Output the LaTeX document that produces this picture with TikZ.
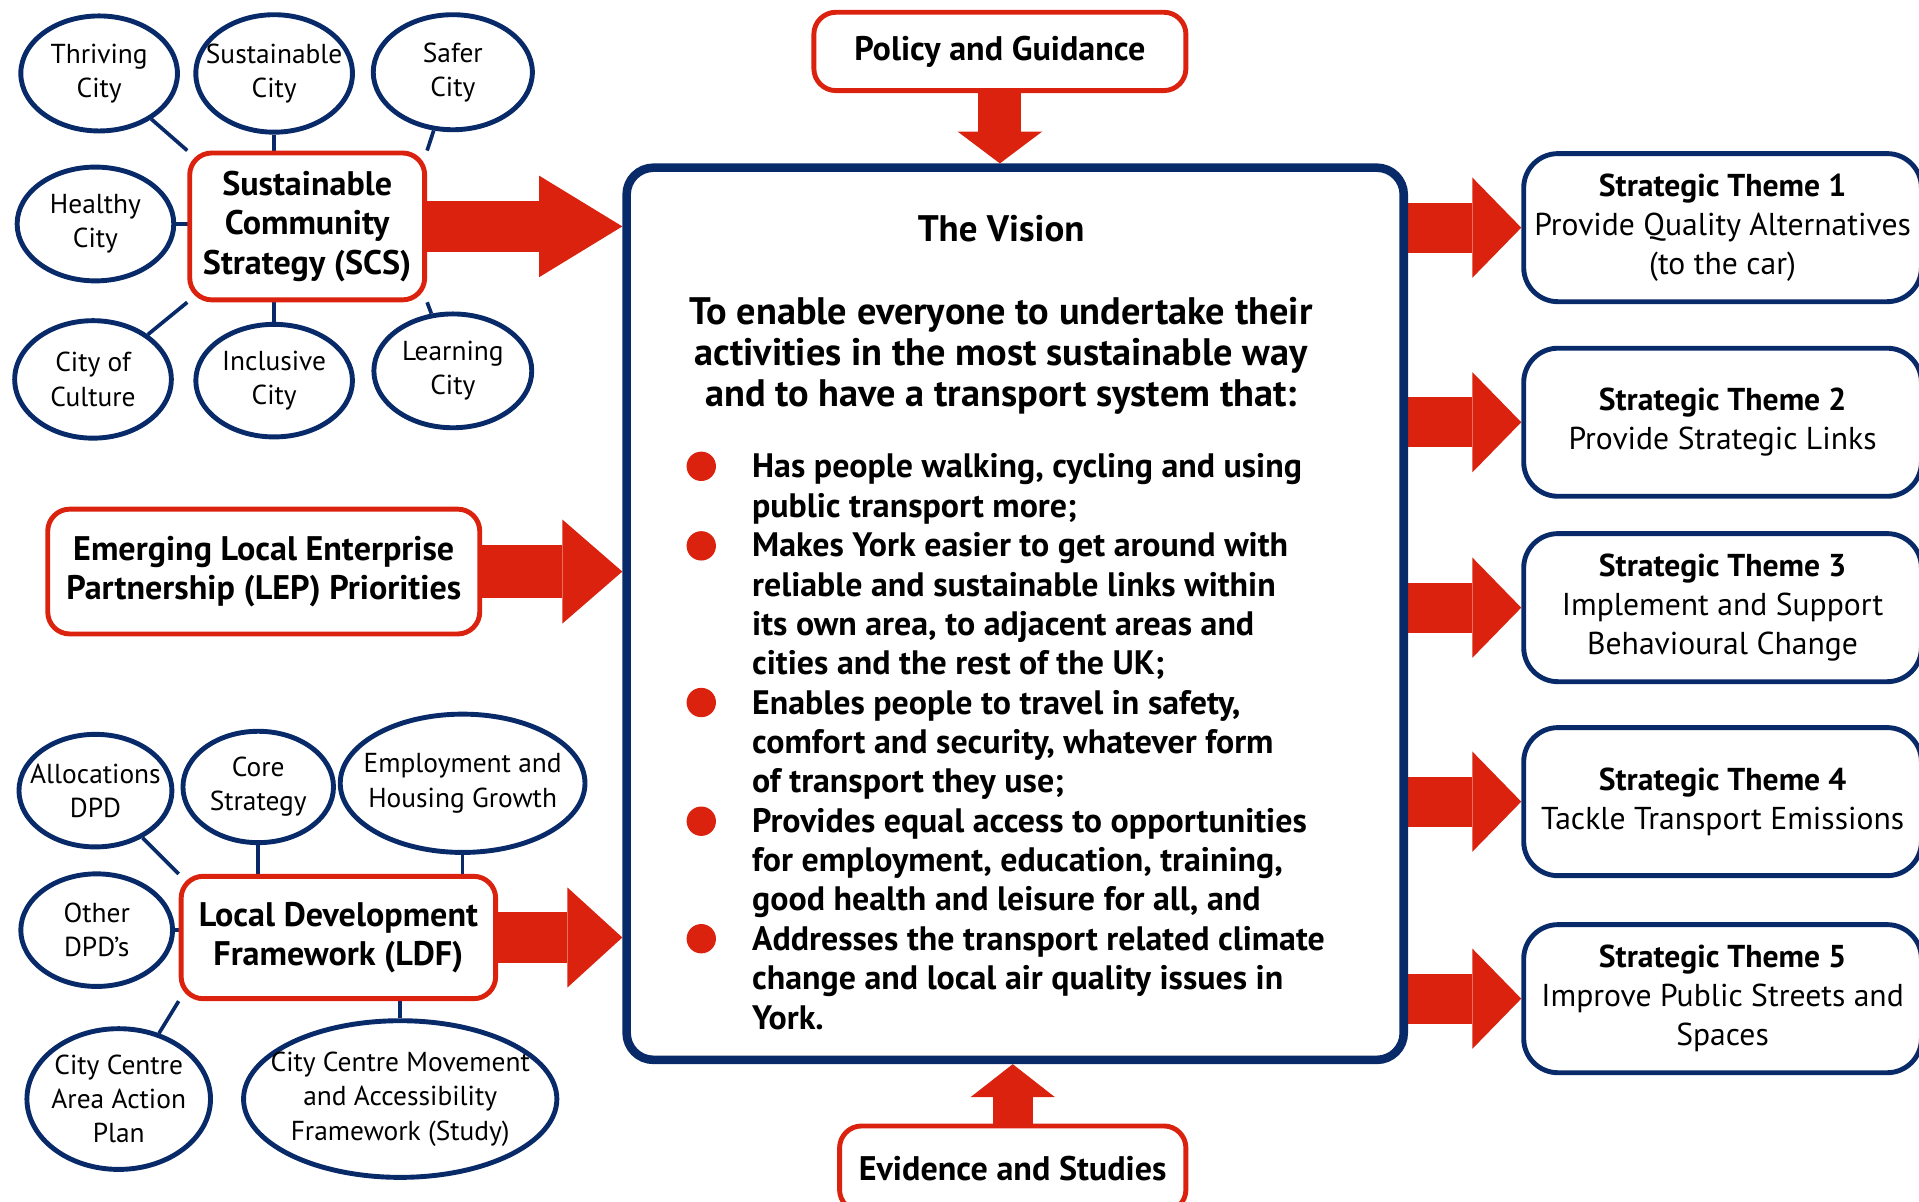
\documentclass[tikz,border=0pt]{standalone}
\usepackage{fontspec}
\setmainfont{PT Sans}
\usetikzlibrary{shapes.geometric,arrows.meta,backgrounds}
\definecolor{vred}{RGB}{218,34,14}
\definecolor{vnavy}{RGB}{8,42,105}
\newdimen\dpx \dpx=0.34825pt
\tikzset{
  bubble/.style 2 args={ellipse, draw=vnavy, line width=4\dpx, fill=white, inner ysep=0pt, inner xsep=-6pt,
    align=center, minimum width=#1\dpx, minimum height=#2\dpx, font=\fontsize{7.8}{9.75}\selectfont},
  redbox/.style 2 args={rectangle, rounded corners=18\dpx, draw=vred, line width=4\dpx, fill=white,
    inner sep=0pt, align=center, minimum width=#1\dpx, minimum height=#2\dpx,
    font=\bfseries\fontsize{9.7}{11.2}\selectfont},
  themebox/.style={rectangle, rounded corners=28\dpx, draw=vnavy, line width=4\dpx, fill=white,
    inner sep=0pt, align=center, minimum width=325\dpx, minimum height=121\dpx,
    font=\fontsize{9}{11.1}\selectfont},
  link/.style={draw=vnavy, line width=3\dpx},
  % shaft, head length, head width (pt)
  fatarrow/.style n args={3}{draw=vred, line width=#1pt,
    -{Triangle[length=#2pt, width=#3pt, line width=0pt, fill=vred]}}
}
\begin{document}
\begin{tikzpicture}[x=0.34825pt, y=-0.34825pt]
  \useasboundingbox (0,0) rectangle (1568,982);
  \clip (0,0) rectangle (1568,982);

  % the vision
  \node[draw=vnavy, line width=7\dpx, rounded corners=22\dpx, fill=white,
        minimum width=635\dpx, minimum height=729\dpx] (vis) at (829.5,501.5) {};
  \node[font=\bfseries\fontsize{10.5}{12}\selectfont] (vtit) at (818,187) {The Vision};
  \node[align=center, font=\bfseries\fontsize{10.9}{11.67}\selectfont] (vaim) at (818,290.5)
    {To enable everyone to undertake their\\activities in the most sustainable way\\and to have a transport system that:};
  \node[anchor=west, align=left, inner sep=0pt, font=\bfseries\fontsize{9.65}{11.2}\selectfont] (vlist) at (614,606)
    {Has people walking, cycling and using\\public transport more;\\
     Makes York easier to get around with\\reliable and sustainable links within\\its own area, to adjacent areas and\\cities and the rest of the UK;\\
     Enables people to travel in safety,\\comfort and security, whatever form\\of transport they use;\\
     Provides equal access to opportunities\\for employment, education, training,\\good health and leisure for all, and\\
     Addresses the transport related climate\\change and local air quality issues in\\York.};
  \foreach \y in {381,446,574,671,767}
    \fill[vred] (573,\y) circle (12\dpx);

  \node[redbox={304}{64}] (pol) at (817,42) {Policy and Guidance};
  \node[redbox={283}{70}] (evi) at (827.5,955) {Evidence and Studies};

  % sustainable community strategy
  \node[redbox={192}{120}] (scs) at (251,185) {Sustainable\\Community\\Strategy (SCS)};
  \node[bubble={128}{94}] (thr) at (81,60) {Thriving\\City};
  \node[bubble={128}{96}] (sus) at (224,60) {Sustainable\\City};
  \node[bubble={130}{94}] (saf) at (370,59) {Safer\\City};
  \node[bubble={128}{93}] (hea) at (78,183) {Healthy\\City};
  \node[bubble={128}{96}] (cul) at (76,310) {City of\\Culture};
  \node[bubble={128}{92}] (inc) at (224,311) {Inclusive\\City};
  \node[bubble={129}{93}] (lea) at (370,303) {Learning\\City};

  \node[redbox={353}{102}] (lep) at (215.5,467) {Emerging Local Enterprise\\Partnership (LEP) Priorities};

  % local development framework
  \node[redbox={257}{100}] (ldf) at (276.5,766) {Local Development\\Framework (LDF)};
  \node[bubble={125}{92}] (alc) at (78,646) {Allocations\\DPD};
  \node[bubble={123}{91}] (cor) at (211,643) {Core\\Strategy};
  \node[bubble={200}{113}] (emp) at (378,640) {Employment and\\Housing Growth};
  \node[bubble={124}{92}] (oth) at (79,760) {Other\\DPD's};
  \node[bubble={150}{115}] (cca) at (97,898) {City Centre\\Area Action\\Plan};
  \node[bubble={256}{128}] (ccm) at (327,898) {City Centre Movement\\and Accessibility\\Framework (Study)};

  % strategic themes
  \node[themebox] (st1) at (1407.5,186) {\textbf{Strategic Theme 1}\\Provide Quality Alternatives\\(to the car)};
  \node[themebox] (st2) at (1407.5,345) {\textbf{Strategic Theme 2}\\Provide Strategic Links};
  \node[themebox] (st3) at (1407.5,496.5) {\textbf{Strategic Theme 3}\\Implement and Support\\Behavioural Change};
  \node[themebox] (st4) at (1407.5,655) {\textbf{Strategic Theme 4}\\Tackle Transport Emissions};
  \node[themebox] (st5) at (1407.5,816) {\textbf{Strategic Theme 5}\\Improve Public Streets and\\Spaces};

  \begin{scope}[on background layer]
    \draw[link] (thr) -- (scs.north west);
    \draw[link] (sus) -- (sus |- scs);
    \draw[link] (saf) -- (scs.north east);
    \draw[link] (hea) -- (hea -| scs);
    \draw[link] (cul) -- (scs.south west);
    \draw[link] (inc) -- (inc |- scs);
    \draw[link] (lea) -- (scs.south east);
    \draw[link] (alc) -- (ldf.north west);
    \draw[link] (cor) -- (cor |- ldf);
    \draw[link] (emp) -- (emp |- ldf);
    \draw[link] (oth) -- (oth -| ldf);
    \draw[link] (cca) -- (ldf.south west);
    \draw[link] (ccm) -- (ccm |- ldf);

    \draw[fatarrow={14.63}{23.68}{28.9}] (scs) -- (scs -| vis.west);
    \draw[fatarrow={14.97}{17.06}{29.6}] (lep) -- (lep -| vis.west);
    \draw[fatarrow={14.28}{15.67}{28.56}] (ldf) -- (ldf -| vis.west);
    \draw[fatarrow={12.19}{9.05}{24.03}] (pol) -- (pol |- vis.north);
    \draw[fatarrow={11.49}{9.4}{24.03}] (evi) -- (evi |- vis.south);
    \foreach \t in {st1,st2,st3,st4,st5}
      \draw[fatarrow={14.28}{13.93}{28.56}] (\t -| vis) -- (\t.west);
  \end{scope}
\end{tikzpicture}
\end{document}
